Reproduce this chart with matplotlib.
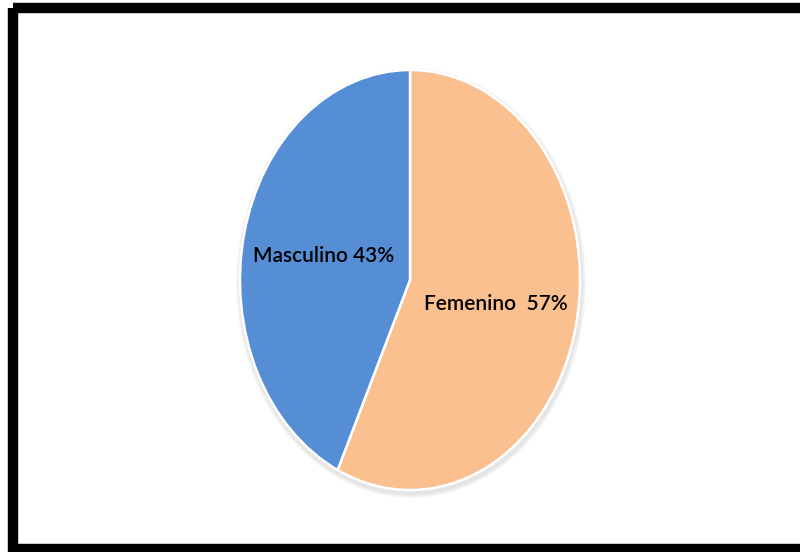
import matplotlib.pyplot as plt
from matplotlib.patches import Rectangle, Ellipse

# datos del grafico
sexo = ["Femenino", "Masculino"]
porcentaje = [57, 43]
etiquetas = ["Femenino  57%", "Masculino 43%"]
colores = ["#FAC090", "#558ED5"]

fig = plt.figure(figsize=(8, 5.52), dpi=100)

# capa de fondo en pixeles: marco negro y sombra de la torta
bg = fig.add_axes([0, 0, 1, 1])
bg.set_xlim(0, 800)
bg.set_ylim(552, 0)
bg.axis("off")
bg.add_patch(Rectangle((12.5, 8), 800, 541, fill=False, edgecolor="black", linewidth=7.5))
for i, a in enumerate([0.05, 0.05, 0.05, 0.05]):
    bg.add_patch(Ellipse((411, 283), 344 + 2 * i, 424 + 2 * i, facecolor="gray",
                         alpha=a, edgecolor="none"))

# torta (eliptica)
ax = fig.add_axes([240 / 800, 62 / 552, 340 / 800, 420 / 552])
it = iter(etiquetas)
wedges, texts, autotexts = ax.pie(porcentaje, colors=colores, startangle=90, counterclock=False,
                                  autopct=lambda p: next(it), pctdistance=0.52,
                                  wedgeprops=dict(edgecolor="white", linewidth=1.8))
for t in autotexts:
    t.set_fontsize(15)
    t.set_fontfamily("Lato")
    t.set_fontweight("semibold")
    t.set_color("black")
ax.set_aspect("auto")
ax.set_xlim(-1, 1)
ax.set_ylim(-1, 1)

fig.savefig("out.png", dpi=100)
